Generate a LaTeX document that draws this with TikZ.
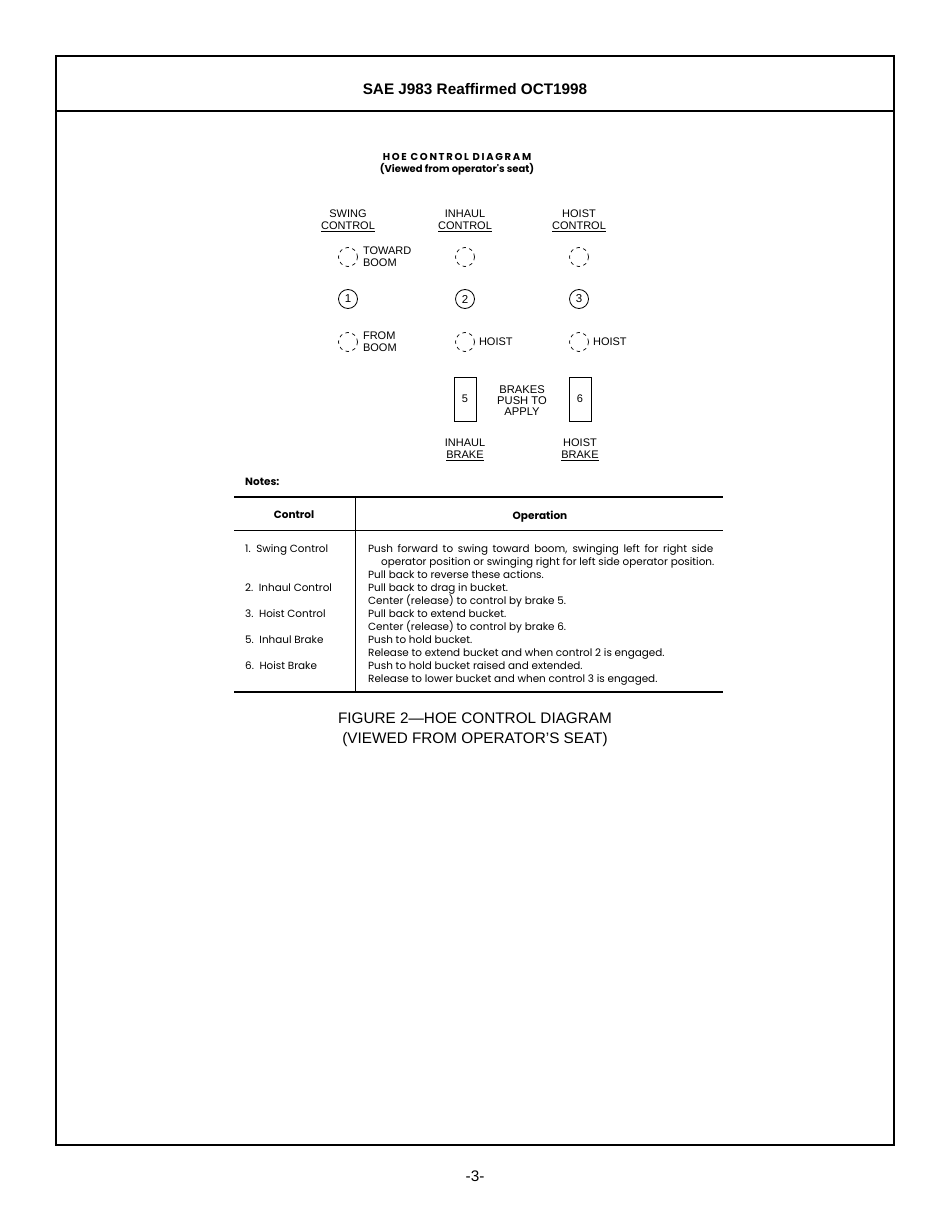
\documentclass[tikz,border=0pt]{standalone}
\usepackage{fontspec}
\setmainfont{Liberation Sans}
\newfontfamily\notesfont{Poppins}
\usetikzlibrary{positioning}
\begin{document}
\begin{tikzpicture}[x=1pt,y=-1pt,
    lbl/.style={inner sep=0pt, align=center, font=\fontsize{11}{12}\selectfont},
    knob/.style={circle, draw, line width=0.7pt, minimum size=19pt, inner sep=0pt, dash pattern=on 3.5pt off 3.5pt},
    lever/.style={circle, draw, line width=0.8pt, minimum size=19pt, inner sep=0pt, font=\fontsize{11.5}{12}\selectfont},
    brakebox/.style={draw, line width=0.8pt, minimum width=22pt, minimum height=44pt, inner sep=0pt, font=\fontsize{11}{12}\selectfont},
    note/.style={inner sep=0pt, anchor=base west, font=\notesfont\fontsize{10.4}{13}\selectfont},
    notehead/.style={inner sep=0pt, font=\notesfont\bfseries\fontsize{10.5}{13}\selectfont}]
  \useasboundingbox (0,0) rectangle (950,1230);

  % page frame
  \coordinate (frametl) at (56,56);
  \coordinate (framebr) at (894,1145);
  \draw[line width=2pt] (frametl) rectangle (framebr);
  \coordinate (headl) at (56,111);
  \coordinate (headr) at (894,111);
  \draw[line width=2pt] (headl) -- (headr);
  \node[font=\bfseries\fontsize{15.3}{17}\selectfont] (head) at (475,89) {SAE J983 Reaffirmed OCT1998};

  % title
  \node[notehead, font=\notesfont\bfseries\fontsize{10}{12}\selectfont\addfontfeature{LetterSpace=17}] (title) at (457,157) {HOE CONTROL DIAGRAM};
  \node[notehead, font=\notesfont\bfseries\fontsize{10}{12}\selectfont] (subtitle) at (457,169) {(Viewed from operator's seat)};

  % controls
  \node[lbl] (swing) at (348,221) {SWING\\\underline{CONTROL}};
  \node[lbl] (inhaul) at (465,221) {INHAUL\\\underline{CONTROL}};
  \node[lbl] (hoist) at (579,221) {HOIST\\\underline{CONTROL}};

  \node[knob] (swingfwd) at (348,257) {};
  \node[knob] (inhaulfwd) at (465,257) {};
  \node[knob] (hoistfwd) at (579,257) {};
  \node[lbl, align=left, right=5pt of swingfwd] (toward) {TOWARD\\BOOM};

  \node[lever] (c1) at (348,299) {1};
  \node[lever] (c2) at (465,299) {2};
  \node[lever] (c3) at (579,299) {3};

  \node[knob] (swingback) at (348,342) {};
  \node[knob] (inhaulback) at (465,342) {};
  \node[knob] (hoistback) at (579,342) {};
  \node[lbl, align=left, right=5pt of swingback] (from) {FROM\\BOOM};
  \node[lbl, right=4pt of inhaulback] (inhaulup) {HOIST};
  \node[lbl, right=4pt of hoistback] (hoistup) {HOIST};

  % brakes
  \node[brakebox] (brk5) at (465,399) {5};
  \node[brakebox] (brk6) at (580,399) {6};
  \node[lbl, font=\fontsize{11.2}{11}\selectfont] (push) at (522,401) {BRAKES\\PUSH TO\\APPLY};
  \node[lbl] (inhaulbrk) at (465,450) {INHAUL\\\underline{BRAKE}};
  \node[lbl] (hoistbrk) at (580,450) {HOIST\\\underline{BRAKE}};

  % notes table
  \node[notehead, anchor=base west] (notes) at (245,485) {Notes:};
  \coordinate (toprl) at (234,497);
  \coordinate (toprr) at (723,497);
  \coordinate (midrl) at (234,530);
  \coordinate (midrr) at (723,530);
  \coordinate (botrl) at (234,692);
  \coordinate (botrr) at (723,692);
  \coordinate (colt) at (355,497);
  \coordinate (colb) at (355,692);
  \draw[line width=1.4pt] (toprl) -- (toprr);
  \draw[line width=0.8pt] (midrl) -- (midrr);
  \draw[line width=1.4pt] (botrl) -- (botrr);
  \draw[line width=0.8pt] (colt) -- (colb);
  \node[notehead] (ctrlhead) at (294,515) {Control};
  \node[notehead] (ophead) at (540,517) {Operation};

  \node[note] (n1) at (245,552) {1.\ \ Swing Control};
  \node[note] (n2) at (245,591) {2.\ \ Inhaul Control};
  \node[note] (n3) at (245,617) {3.\ \ Hoist Control};
  \node[note] (n5) at (245,643) {5.\ \ Inhaul Brake};
  \node[note] (n6) at (245,669) {6.\ \ Hoist Brake};

  \node[note, anchor=north west, align=left] (ops) at (368,544)
    {\makebox[345pt][s]{Push forward to swing toward boom, swinging left for right side}\\
     \hspace*{13pt}operator position or swinging right for left side operator position.\\
     Pull back to reverse these actions.\\
     Pull back to drag in bucket.\\
     Center (release) to control by brake 5.\\
     Pull back to extend bucket.\\
     Center (release) to control by brake 6.\\
     Push to hold bucket.\\
     Release to extend bucket and when control 2 is engaged.\\
     Push to hold bucket raised and extended.\\
     Release to lower bucket and when control 3 is engaged.};

  % caption
  \node[align=center, font=\fontsize{15.3}{20}\selectfont] (caption) at (475,730)
    {FIGURE 2---HOE CONTROL DIAGRAM\\(VIEWED FROM OPERATOR'S SEAT)};
  \node[font=\fontsize{15.3}{17}\selectfont] (page) at (475,1176) {-3-};
\end{tikzpicture}
\end{document}
